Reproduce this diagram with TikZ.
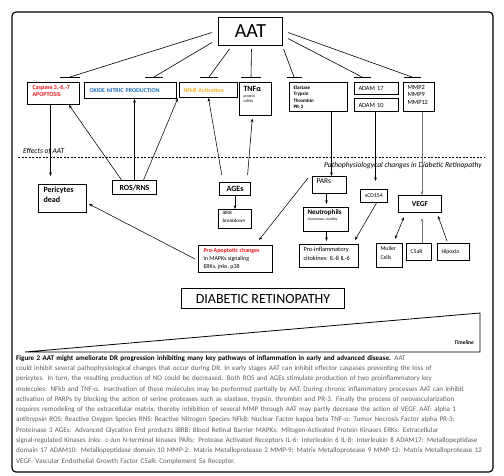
\documentclass[tikz,border=0pt]{standalone}
\usepackage{fontspec}
\setmainfont{Carlito}
\usetikzlibrary{arrows.meta,calc}
\definecolor{apred}{HTML}{E8141C}
\definecolor{noblue}{HTML}{1A6EC0}
\definecolor{nforange}{HTML}{F2B21A}
\definecolor{capgray}{HTML}{5E5E5E}
\newcommand\fs[2]{\fontsize{#1}{#2}\selectfont}
\newcommand\capline[1]{\makebox[474pt][s]{#1}}
\newcommand\tbt[5]{\parbox[c][#2][t]{#1}{\raggedright\leftskip=#3\relax\vspace*{#4}#5\par}}
\begin{document}
\begin{tikzpicture}[x=1pt,y=-1pt,
  tbx/.style={draw=black, line width=1pt, anchor=north west, inner sep=0pt},
  lbx/.style={draw=black, line width=1pt, anchor=north west, inner ysep=0pt, align=left},
  cbx/.style={draw=black, line width=1pt, anchor=north west, inner sep=0pt, align=center},
  arr/.style={-{Stealth[length=3.6pt,width=2.8pt]}, line width=0.55pt},
  darr/.style={{Stealth[length=3.6pt,width=2.8pt]}-{Stealth[length=3.6pt,width=2.8pt]}, line width=0.55pt},
  garr/.style={arr, draw=black!55},
  inh/.style={line width=0.6pt},
  tbar/.style={line width=0.9pt},
  lbl/.style={inner sep=0pt, font=\itshape\fs{7.5}{9}}
]
\useasboundingbox (0,0) rectangle (504,475);
\draw[line width=1.2pt, rounded corners=4pt] (12,12) rectangle (493,472);

% ---- top
\node[cbx, minimum width=64pt, minimum height=28pt, font=\fs{20}{22}] (aat) at (218,17) {AAT};

\node[tbx] (casp) at (27,82) {\tbt{52pt}{22pt}{5pt}{2.5pt}{\color{apred}\bfseries\fs{6}{7.5}Caspase 3,-6,-7\\APOPTOSIS}};
\node[lbx, text width=82pt, inner xsep=5pt, minimum height=16pt, font=\bfseries\fs{6}{7}, text=noblue] (oxide) at (84,82) {OXIDE NITRIC PRODUCTION};
\node[lbx, text width=50pt, inner xsep=4pt, minimum height=15pt, font=\bfseries\fs{6}{7}, text=nforange] (nfkb) at (179,82) {NFkB Activation};
\node[tbx] (tnf) at (239,82) {\tbt{32pt}{33pt}{4pt}{3.5pt}{{\bfseries\fs{8}{9}TNFα\par}\vspace{1.5pt}{\fs{3.8}{5}protein\\mRNA\par}}};
\node[tbx] (elast) at (289,82) {\tbt{58pt}{29pt}{4pt}{3pt}{\bfseries\fs{5}{6.5}Elastase\\Trypsin\\Thrombin\\PR-3}};
\node[lbx, text width=36pt, inner xsep=4pt, minimum height=12pt, font=\fs{6.3}{7}] (adam17) at (354,82) {ADAM 17};
\node[lbx, text width=36pt, inner xsep=4pt, minimum height=13pt, font=\fs{6.3}{7}] (adam10) at (354,98) {ADAM 10};
\node[tbx] (mmp) at (403,82) {\tbt{31pt}{29pt}{4pt}{2.5pt}{\fs{6.3}{7.5}MMP2\\MMP9\\MMP12}};

% inhibition bars
\coordinate (tb1) at (70,77);
\coordinate (tb2) at (154,77);
\coordinate (tb3) at (209,77);
\coordinate (tb4) at (251,77);
\coordinate (tb5) at (294,77);
\coordinate (tb6) at (362,77);
\coordinate (tb7) at (412,77);
\draw[inh] ([shift={(-6,1)}]aat.west) -- (tb1);
\draw[inh] ([shift={(-6,11)}]aat.west) -- (tb2);
\draw[inh] ([shift={(-21,3)}]aat.south) -- (tb3);
\draw[inh] ([shift={(1,3)}]aat.south) -- (tb4);
\draw[inh] ([shift={(33,3)}]aat.south) -- (tb5);
\draw[inh] ([shift={(5,7)}]aat.east) -- (tb6);
\draw[inh] ([shift={(5,1)}]aat.east) -- (tb7);
\foreach \t/\h in {tb1/10,tb2/9,tb3/9,tb4/10,tb5/7.5,tb6/8.5,tb7/8.5}
  \draw[tbar] ([xshift=-\h pt]\t) -- ([xshift=\h pt]\t);

% ---- separator
\draw[dashed, dash pattern=on 2pt off 1.5pt, line width=0.6pt] (18,157) -- (485,157);
\node[lbl, anchor=base west] (eff) at (23,153) {Effects of AAT};
\node[lbl, anchor=base east] (path) at (482,167) {Pathophysiologycal changes in Diabetic Retinopathy};

% ---- lower boxes
\node[tbx] (peri) at (38,184) {\tbt{48pt}{28pt}{5pt}{2pt}{\bfseries\fs{8}{10}Pericytes\\dead}};
\node[cbx, minimum width=44pt, minimum height=14pt, font=\bfseries\fs{7.8}{9}] (ros) at (112,180) {ROS/RNS};
\node[cbx, minimum width=31pt, minimum height=13pt, font=\bfseries\fs{8}{9}] (ages) at (219,182) {AGEs};
\node[tbx] (ibrb) at (218,209) {\tbt{33pt}{19pt}{4pt}{1.5pt}{\fs{5}{8}iBRB\\breakdown}};
\node[tbx] (proap) at (198,245) {\tbt{74pt}{27pt}{5pt}{2.5pt}{\fs{6}{8}{\color{apred}\bfseries Pro-Apoptotic changes}\\in MAPKs signaling\\ERKs, jnks, p38}};
\node[tbx] (pars) at (312,176) {\tbt{34pt}{17pt}{4pt}{2pt}{\fs{7.5}{9}PARs}};
\node[tbx] (neut) at (303,207) {\tbt{45pt}{24pt}{4pt}{2.5pt}{{\bfseries\fs{7}{8}Neutrophils\par}\vspace{1pt}{\fs{3.6}{5}Chemotaxis, motility\par}}};
\node[tbx] (proinf) at (299,244) {\tbt{59pt}{23pt}{4pt}{2.5pt}{\fs{6.3}{9}Pro-inflammatory\\citokines: IL-8 IL-6}};
\node[cbx, minimum width=27pt, minimum height=13pt, font=\fs{5.8}{7}] (scd) at (360,189) {sCD154};
\node[cbx, minimum width=43pt, minimum height=17pt, font=\bfseries\fs{7.5}{9}] (vegf) at (398,195) {VEGF};
\node[tbx] (muller) at (376,243) {\tbt{26pt}{24pt}{4pt}{3pt}{\fs{5.8}{8.5}Muller\\Cells}};
\node[lbx, text width=17pt, inner xsep=4pt, minimum height=17pt, font=\fs{5.8}{7}] (c5ar) at (406,243) {C5aR};
\node[lbx, text width=24pt, inner xsep=4pt, minimum height=17pt, font=\fs{5.8}{7}] (hip) at (437,243) {Hipoxia};

% ---- arrows
\draw[arr, shorten >=8pt] ([xshift=-3pt]casp.south) -- ([xshift=-3pt]casp.south |- peri.north);
\draw[arr] ([xshift=-13pt]ros.north) -- ([xshift=-11pt]casp.south east);
\draw[arr] (ros.north) -- (ros.north |- oxide.south);
\draw[arr] ([xshift=9pt]ros.north) -- ([xshift=-1pt]nfkb.south west);
\draw[arr, shorten <=7pt] ([xshift=-12pt]ages.north) -- (nfkb.south);
\draw[arr, shorten <=7pt, shorten >=2.5pt] ([xshift=12pt]ages.north) -- ([xshift=-3pt]tnf.south);
\draw[arr] (ages.south) -- (ages.south |- ibrb.north);
\draw[arr] ([xshift=13pt]elast.south) -- ([xshift=13pt]elast.south |- pars.north);
\draw[arr, shorten >=8pt] ([xshift=-1pt]adam10.south) -- ([xshift=-1pt]adam10.south |- scd.north);
\draw[garr] ([xshift=3pt]mmp.south) -- ([xshift=3pt]mmp.south |- vegf.north);
\draw[arr, shorten >=3pt] ([xshift=-3pt]pars.south) -- ([xshift=-3pt]pars.south |- neut.north);
\draw[arr, shorten >=3pt] ([xshift=0.5pt]neut.south) -- ([xshift=0.5pt]neut.south |- proinf.north);
\draw[arr] ([shift={(-4,2)}]pars.north west) -- ([shift={(-14,-5)}]proap.north east);
\draw[arr] ([xshift=2.5pt]scd.south) -- ([shift={(-4,-4)}]proinf.north east);
\draw[arr] ([xshift=-3pt]proap.west) -- ([shift={(2,-9)}]peri.south east);
\draw[darr] ([shift={(-8,-4)}]muller.north east) -- ([shift={(6,4)}]vegf.south west);
\draw[garr, shorten >=5pt] ([xshift=3pt]c5ar.north) -- ([xshift=3pt]c5ar.north |- vegf.south);
\draw[arr] ([shift={(10,-2)}]hip.north west) -- ([shift={(-4,3)}]vegf.south east);

% ---- diabetic retinopathy and timeline
\node[cbx, minimum width=163pt, minimum height=20pt, font=\fs{14}{16}] (dr) at (181,288) {DIABETIC RETINOPATHY};
\draw[line width=0.8pt] (25,352) -- (480,352) -- (480,313) -- cycle;
\node[inner sep=0pt, anchor=base east, font=\bfseries\itshape\fs{5.5}{7}] (tl) at (474,344) {Timeline};

% ---- caption
\node[anchor=north west, inner sep=0pt, text width=474pt, align=left, font=\fs{7.05}{10.3}, text=capgray] (caption) at (16,355) {%
\capline{\textcolor{black}{\bfseries Figure 2 AAT might ameliorate DR progression inhibiting many key pathways of inflammation in early and advanced disease.} AAT}\\%
\capline{could inhibit several pathophysiological changes that occur during DR. In early stages AAT can inhibit effector caspases preventing the loss of}\\%
\capline{pericytes. In turn, the resulting production of NO could be decreased. Both ROS and AGEs stimulate production of two proinflammatory key}\\%
\capline{molecules: NFkb and TNF-α. Inactivation of these molecules may be performed partially by AAT. During chronic inflammatory processes AAT can inhibit}\\%
\capline{activation of PARPs by blocking the action of serine proteases such as elastase, trypsin, thrombin and PR-3. Finally the process of neovascularization}\\%
\capline{requires remodeling of the extracellular matrix, thereby inhibition of several MMP through AAT may partly decrease the action of VEGF. AAT: alpha 1}\\%
\capline{antitrypsin ROS: Reactive Oxygen Species RNS: Reactive Nitrogen Species NFkB: Nuclear Factor kappa beta TNF-α: Tumor Necrosis Factor alpha PR-3:}\\%
\capline{Proteinase 3 AGEs: Advanced Glycation End products iBRB: Blood Retinal Barrier MAPKs: Mitogen-Activated Protein Kinases ERKs: Extracellular}\\%
\capline{signal-regulated Kinases Jnks: c-Jun N-terminal kinases PARs: Protease Activated Receptors IL-6: Interleukin 6 IL-8: Interleukin 8 ADAM17: Metallopeptidase}\\%
\capline{domain 17 ADAM10: Metallopeptidase domain 10 MMP-2: Matrix Metalloprotease 2 MMP-9: Matrix Metalloprotease 9 MMP-12: Matrix Metalloprotease 12}\\%
VEGF: Vascular Endothelial Growth Factor C5aR: Complement 5a Receptor.};
\end{tikzpicture}
\end{document}
